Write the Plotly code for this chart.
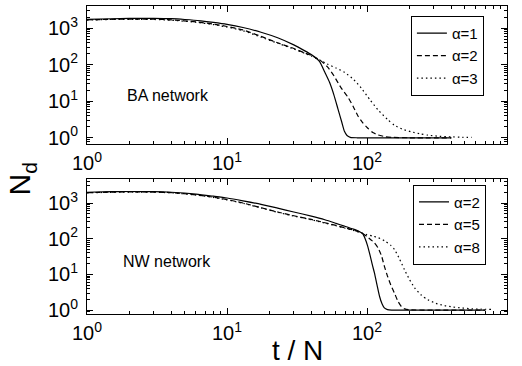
import plotly.graph_objects as go

# ---------------- data ----------------
ba_labels = ["α=1", "α=2", "α=3"]
ba_t1 = [1, 1.5, 2, 3, 4, 5, 6.5, 8, 10, 13, 17.5, 23, 30, 36, 40, 43, 46, 50, 54, 58, 62, 66, 69, 72, 76, 85, 120, 200, 400]
ba_n1 = [1750, 1820, 1860, 1870, 1830, 1740, 1600, 1450, 1280, 1050, 780, 550, 350, 240, 190, 155, 120, 62, 33, 15, 6.2, 2.7, 1.5, 1.15, 1.03, 1.0, 1.0, 1.0, 1.0]
ba_t2 = [1, 1.5, 2, 3, 4, 6, 8, 10, 13, 17.5, 23, 30, 36, 40, 43, 46, 52, 58, 65, 73, 80, 86, 93, 101, 110, 120, 135, 150, 200, 400]
ba_n2 = [1700, 1760, 1790, 1780, 1700, 1500, 1300, 1120, 900, 600, 400, 280, 210, 180, 155, 135, 89, 50, 24, 13, 7, 4, 2.6, 1.85, 1.4, 1.2, 1.07, 1.03, 1.0, 1.0]
ba_t3 = [1, 1.5, 2, 3, 4, 6, 8, 10, 13, 17.5, 23, 30, 36, 40, 43, 46, 52, 60, 69, 80, 91, 105, 120, 140, 157, 180, 207, 240, 272, 330, 400, 480, 560]
ba_n3 = [1680, 1740, 1760, 1740, 1660, 1460, 1260, 1080, 860, 570, 390, 270, 205, 175, 152, 135, 105, 82, 62, 40, 23, 11, 5.8, 3.2, 2.2, 1.7, 1.46, 1.28, 1.18, 1.1, 1.06, 1.03, 1.02]

nw_labels = ["α=2", "α=5", "α=8"]
nw_t1 = [1, 1.5, 2, 3, 4, 6, 8, 10, 13, 17.5, 23, 30, 40, 50, 60, 69, 80, 88, 93, 97, 101, 105, 109, 113, 118, 123, 128, 133, 140, 150, 300, 700]
nw_n1 = [2000, 2080, 2100, 2080, 2000, 1780, 1550, 1380, 1150, 920, 720, 560, 430, 340, 270, 225, 185, 160, 140, 100, 63, 35, 19, 11, 5, 2.4, 1.5, 1.15, 1.03, 1.0, 1.0, 1.0]
nw_t2 = [1, 2, 3, 4, 6, 8, 10, 13, 17.5, 23, 30, 40, 50, 60, 69, 80, 88, 93, 100, 107, 113, 120, 127, 133, 140, 148, 157, 166, 176, 186, 200, 300, 700]
nw_n2 = [1950, 2050, 2030, 1950, 1700, 1450, 1250, 1000, 740, 560, 440, 347, 280, 235, 203, 175, 155, 140, 115, 92, 77, 55, 33, 17, 9, 5, 3, 1.8, 1.26, 1.08, 1.02, 1.0, 1.0]
nw_t3 = [1, 2, 3, 4, 6, 8, 10, 13, 17.5, 23, 30, 40, 50, 60, 69, 80, 91, 100, 110, 120, 135, 148, 157, 170, 185, 200, 219, 245, 272, 310, 358, 410, 470, 560, 650, 770]
nw_n3 = [1930, 2030, 2010, 1930, 1680, 1430, 1230, 980, 730, 550, 430, 340, 275, 230, 200, 170, 146, 130, 118, 107, 85, 65, 50, 28, 13.7, 7.5, 4.2, 2.6, 1.95, 1.55, 1.33, 1.22, 1.15, 1.09, 1.06, 1.05]

y_tickvals = [1, 10, 100, 1000]
y_ticktext = ["10<sup>0</sup>", "10<sup>1</sup>", "10<sup>2</sup>", "10<sup>3</sup>"]
x_tickvals = [1, 10, 100, 1000]
x_ticktext = ["10<sup>0</sup>", "10<sup>1</sup>", "10<sup>2</sup>", "10<sup>3</sup>"]
minor_vals = [m * 10 ** e for e in range(-1, 4) for m in range(2, 10)]

# ---------------- figure ----------------
FONT = "Liberation Sans, Arial, sans-serif"
dashes = ["solid", "5px,3px", "1.5px,3px"]

fig = go.Figure()
ba = [(ba_t1, ba_n1), (ba_t2, ba_n2), (ba_t3, ba_n3)]
nw = [(nw_t1, nw_n1), (nw_t2, nw_n2), (nw_t3, nw_n3)]
for (t, n), lab, d in zip(ba, ba_labels, dashes):
    fig.add_trace(go.Scatter(x=t, y=n, mode="lines", name=lab, xaxis="x", yaxis="y",
                             line=dict(color="black", width=1.2, dash=d, shape="spline", smoothing=0.6),
                             legend="legend"))
for (t, n), lab, d in zip(nw, nw_labels, dashes):
    fig.add_trace(go.Scatter(x=t, y=n, mode="lines", name=lab, xaxis="x2", yaxis="y2",
                             line=dict(color="black", width=1.2, dash=d, shape="spline", smoothing=0.6),
                             legend="legend2"))

def xax(anchor):
    return dict(type="log", range=[0, 3], anchor=anchor, domain=[0, 1],
                tickmode="array", tickvals=x_tickvals, ticktext=x_ticktext,
                ticks="inside", ticklen=6, tickwidth=1, tickcolor="black",
                minor=dict(ticks="inside", ticklen=3, tickvals=minor_vals, tickcolor="black", showgrid=False),
                showline=True, linecolor="black", linewidth=1, mirror="allticks",
                showgrid=False, zeroline=False,
                tickfont=dict(family=FONT, size=20, color="black"), ticklabelstandoff=1)

def yax(anchor, rng, dom):
    return dict(type="log", range=rng, anchor=anchor, domain=dom,
                tickmode="array", tickvals=y_tickvals, ticktext=y_ticktext,
                ticks="inside", ticklen=6, tickwidth=1, tickcolor="black",
                minor=dict(ticks="inside", ticklen=3, tickvals=minor_vals, tickcolor="black", showgrid=False),
                showline=True, linecolor="black", linewidth=1, mirror="allticks",
                showgrid=False, zeroline=False,
                tickfont=dict(family=FONT, size=20, color="black"), ticklabelstandoff=4)

legend_common = dict(bgcolor="white", bordercolor="black", borderwidth=1,
                     font=dict(family=FONT, size=15, color="black"),
                     xanchor="right", yanchor="top", tracegroupgap=0)

fig.update_layout(
    width=522, height=366,
    margin=dict(l=87, r=15, t=6, b=52),
    paper_bgcolor="white", plot_bgcolor="white",
    showlegend=True,
    xaxis=xax("y"),
    yaxis=yax("x", [-0.17, 3.61], [0.552, 1]),
    xaxis2=xax("y2"),
    yaxis2=yax("x2", [-0.11, 3.67], [0, 0.438]),
    legend=dict(x=0.945, y=0.968, **legend_common),
    legend2=dict(x=0.95, y=0.42, **legend_common),
    annotations=[
        dict(text="BA network", x=0.193, y=0.711, xref="paper", yref="paper", showarrow=False,
             xanchor="center", yanchor="middle",
             font=dict(family=FONT, size=16, color="black")),
        dict(text="NW network", x=0.191, y=0.172, xref="paper", yref="paper", showarrow=False,
             xanchor="center", yanchor="middle",
             font=dict(family=FONT, size=16, color="black")),
        dict(text="N<sub>d</sub>", x=-0.155, y=0.44, xref="paper", yref="paper", showarrow=False,
             xanchor="center", yanchor="middle",
             textangle=-90, font=dict(family=FONT, size=30, color="black")),
        dict(text="t / N", x=0.5, y=-0.117, xref="paper", yref="paper", showarrow=False,
             xanchor="center", yanchor="middle",
             font=dict(family=FONT, size=28, color="black")),
    ],
)

fig.write_html("out.html")
